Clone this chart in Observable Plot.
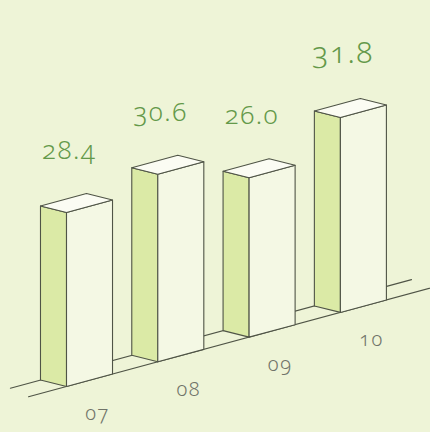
<!DOCTYPE html>
<html>
<head>
<meta charset="utf-8">
<script src="https://cdn.jsdelivr.net/npm/d3@7"></script>
<script src="https://cdn.jsdelivr.net/npm/@observablehq/plot@0.6"></script>
<style>
  html, body { margin: 0; padding: 0; background: #eef4d7; }
  #chart svg text { letter-spacing: 1.5px; font-feature-settings: "onum" 1; font-variant-numeric: oldstyle-nums; }
</style>
</head>
<body>
<div id="chart"></div>
<script>
// ---- data ----
const years = ["07", "08", "09", "10"];
const values = [28.4, 30.6, 26.0, 31.8];
const valueLabels = ["28.4", "30.6", "26.0", "31.8"];

// ---- oblique projection of a 3D box chart (u: slot along floor, v: value, z: 0 front .. 1 back) ----
const BAR_W = 0.504;   // bar width in slots
const DEPTH_X = 0.285; // depth shift in slots
const DEPTH_Y = 1.06;  // depth rise in value units
const RISE = 4.03;     // floor rise per slot in value units
const proj = (u, v, z) => ({x: u - DEPTH_X * z, y: RISE * u + v + DEPTH_Y * z});

const bars = years.map((yr, i) => ({year: yr, value: values[i], label: valueLabels[i], i}));

function face(corners) {
  return bars.flatMap(b => {
    const pts = corners(b).map(([u, v, z]) => ({...proj(u, v, z), bar: b.year}));
    return [...pts, pts[0]];
  });
}
const leftFaces = face(b => [[b.i, 0, 0], [b.i, b.value, 0], [b.i, b.value, 1], [b.i, 0, 1]]);
const frontFaces = face(b => [[b.i, 0, 0], [b.i + BAR_W, 0, 0], [b.i + BAR_W, b.value, 0], [b.i, b.value, 0]]);
const topFaces = face(b => [[b.i, b.value, 0], [b.i + BAR_W, b.value, 0], [b.i + BAR_W, b.value, 1], [b.i, b.value, 1]]);

const floor = [
  {...proj(-0.33, 0, 1), line: "back"}, {...proj(4.064, 0, 1), line: "back"},
  {...proj(-0.416, 0, 0), line: "front"}, {...proj(4.2, 0, 0), line: "front"}
];

const maxV = d3.max(values);
const stroke = "#4f5446";

const chart = Plot.plot({
  width: 430,
  height: 432,
  margin: 0,
  x: {type: "linear", domain: [-0.723, 3.987], axis: null},
  y: {type: "linear", domain: [-7.5, 62.97], axis: null},
  style: {background: "#eef4d7", overflow: "visible"},
  marks: [
    Plot.line(floor, {x: "x", y: "y", z: "line", stroke, strokeWidth: 1.1}),
    Plot.line(leftFaces, {x: "x", y: "y", z: "bar", fill: "#dbeaa6", stroke, strokeWidth: 1.1, strokeLinejoin: "round"}),
    Plot.line(frontFaces, {x: "x", y: "y", z: "bar", fill: "#f4f8e4", stroke, strokeWidth: 1.1, strokeLinejoin: "round"}),
    Plot.line(topFaces, {x: "x", y: "y", z: "bar", fill: "#fbfcf3", stroke, strokeWidth: 1.1, strokeLinejoin: "round"}),
    Plot.text(bars, {
      x: b => proj(b.i + 0.03, b.value + 8.6, 0).x,
      y: b => proj(b.i + 0.03, b.value + (b.value === maxV ? 8.8 : 8.6), 0).y,
      text: "label",
      fill: "#64994a",
      fontSize: b => b.value === maxV ? 30 : 26,
      fontFamily: "Noto Sans",
      fontWeight: 300,
      lineAnchor: "bottom",
      textAnchor: "middle"
    }),
    Plot.text(bars, {
      x: b => proj(b.i + 0.34, -6.9, 0).x,
      y: b => proj(b.i + 0.34, -6.9, 0).y,
      text: "year",
      fill: "#707369",
      fontSize: 20,
      fontFamily: "Noto Sans",
      fontWeight: 300,
      lineAnchor: "bottom",
      textAnchor: "middle"
    })
  ]
});
document.getElementById("chart").append(chart);
</script>
</body>
</html>
